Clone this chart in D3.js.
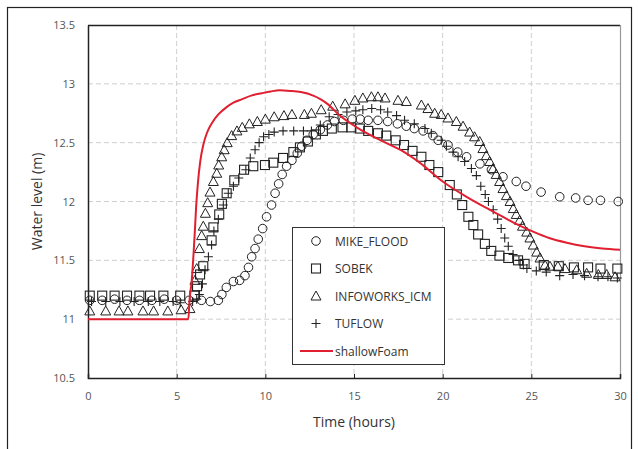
<!DOCTYPE html>
<html><head><meta charset="utf-8">
<script src="https://cdn.jsdelivr.net/npm/d3@7"></script>
<style>body{margin:0;background:#fff}svg{display:block}</style>
</head><body><svg id="c" width="638" height="449"></svg>
<script>
const xTicks = [0,5,10,15,20,25,30];
const yTicks = [10.5,11,11.5,12,12.5,13,13.5];
const seriesNames = ["MIKE_FLOOD","SOBEK","INFOWORKS_ICM","TUFLOW","shallowFoam"];
const mikeFlood = [[0.1,11.16],[0.8,11.16],[1.5,11.17],[2.2,11.16],[2.9,11.16],[3.6,11.16],[4.3,11.17],[5.0,11.16],[5.7,11.16],[6.4,11.16],[6.9,11.15],[7.35,11.16],[7.55,11.21],[7.8,11.27],[8.2,11.32],[8.55,11.33],[8.85,11.37],[9.05,11.44],[9.23,11.53],[9.42,11.6],[9.6,11.68],[9.85,11.77],[10.07,11.87],[10.35,11.97],[10.55,12.07],[10.75,12.15],[10.95,12.23],[11.2,12.3],[11.5,12.35],[11.8,12.41],[12.05,12.47],[12.35,12.52],[12.7,12.57],[13.1,12.61],[13.5,12.65],[13.9,12.68],[14.4,12.69],[14.9,12.7],[15.35,12.7],[15.8,12.69],[16.35,12.69],[16.9,12.68],[17.45,12.66],[17.95,12.64],[18.4,12.62],[18.9,12.6],[19.45,12.56],[19.75,12.52],[20.3,12.48],[20.85,12.42],[21.35,12.38],[22.1,12.32],[22.75,12.27],[23.4,12.21],[24.15,12.17],[24.7,12.13],[25.55,12.08],[26.6,12.04],[27.5,12.03],[28.2,12.01],[28.9,12.01],[29.9,12.0]];
const sobek = [[0.1,11.2],[0.8,11.2],[1.5,11.2],[2.2,11.2],[2.9,11.2],[3.5,11.2],[4.25,11.2],[5.2,11.2],[6.0,11.2],[6.15,11.28],[6.32,11.38],[6.5,11.45],[6.97,11.67],[7.07,11.78],[7.4,11.89],[7.55,11.98],[7.82,12.07],[8.25,12.18],[8.8,12.27],[9.32,12.3],[9.98,12.31],[10.45,12.33],[11.0,12.37],[11.58,12.42],[11.95,12.46],[12.4,12.51],[12.85,12.57],[13.25,12.6],[13.75,12.62],[14.35,12.63],[14.85,12.63],[15.33,12.62],[15.8,12.6],[16.35,12.58],[16.82,12.56],[17.35,12.52],[17.82,12.48],[18.3,12.43],[18.8,12.38],[19.25,12.31],[19.75,12.25],[20.4,12.14],[20.8,12.06],[21.1,11.97],[21.45,11.87],[21.73,11.8],[22.0,11.72],[22.38,11.64],[22.74,11.58],[23.2,11.54],[23.7,11.52],[24.25,11.5],[24.62,11.47],[25.7,11.46],[26.55,11.45],[27.4,11.44],[28.2,11.44],[28.9,11.43],[29.85,11.43]];
const infoworks = [[0.1,11.07],[1.0,11.07],[1.75,11.07],[2.25,11.07],[3.1,11.07],[3.7,11.07],[4.5,11.07],[5.25,11.08],[5.75,11.09],[6.03,11.33],[6.13,11.43],[6.28,11.6],[6.41,11.71],[6.5,11.79],[6.62,11.9],[6.75,11.99],[6.88,12.08],[7.07,12.17],[7.26,12.24],[7.37,12.31],[7.54,12.38],[7.68,12.44],[7.85,12.5],[8.1,12.56],[8.4,12.6],[8.7,12.63],[9.1,12.66],[9.55,12.68],[10.0,12.7],[10.5,12.72],[11.05,12.73],[11.5,12.74],[12.2,12.74],[12.6,12.75],[13.15,12.78],[13.8,12.81],[14.5,12.83],[15.05,12.86],[15.5,12.88],[15.98,12.89],[16.35,12.89],[16.75,12.88],[17.48,12.86],[17.95,12.85],[18.8,12.82],[19.17,12.79],[19.55,12.75],[19.92,12.74],[20.3,12.71],[20.77,12.68],[21.15,12.64],[21.52,12.59],[21.8,12.55],[22.09,12.51],[22.27,12.45],[22.46,12.39],[22.65,12.34],[22.84,12.28],[23.02,12.23],[23.21,12.17],[23.4,12.11],[23.6,12.05],[23.8,12.0],[23.98,11.94],[24.15,11.89],[24.34,11.84],[24.5,11.79],[24.74,11.74],[24.92,11.69],[25.11,11.63],[25.3,11.57],[25.49,11.52],[25.77,11.46],[26.05,11.45],[26.5,11.45],[26.9,11.43],[27.56,11.42],[28.12,11.39],[28.78,11.38],[29.25,11.38],[29.72,11.36]];
const tuflow = [[0.2,11.15],[1.0,11.15],[1.8,11.15],[2.6,11.15],[3.4,11.15],[4.05,11.15],[4.8,11.15],[5.2,11.14],[5.9,11.15],[6.13,11.17],[6.28,11.21],[6.45,11.3],[6.6,11.42],[6.79,11.53],[6.97,11.63],[7.1,11.75],[7.35,11.85],[7.63,11.97],[7.91,12.07],[8.2,12.13],[8.5,12.2],[8.9,12.27],[9.15,12.37],[9.42,12.44],[9.65,12.5],[9.9,12.55],[10.2,12.57],[10.5,12.59],[11.0,12.6],[11.6,12.6],[12.15,12.6],[12.6,12.6],[13.1,12.65],[13.6,12.72],[14.1,12.74],[14.6,12.76],[15.1,12.77],[15.5,12.78],[16.0,12.79],[16.5,12.78],[16.9,12.76],[17.4,12.73],[17.85,12.69],[18.4,12.66],[19.0,12.62],[19.36,12.58],[19.92,12.52],[20.21,12.47],[20.58,12.42],[20.87,12.38],[21.24,12.34],[21.62,12.28],[21.9,12.22],[22.15,12.13],[22.4,12.06],[22.58,12.0],[22.85,11.93],[23.1,11.85],[23.3,11.77],[23.5,11.69],[23.7,11.62],[23.97,11.55],[24.3,11.5],[24.55,11.46],[24.75,11.43],[25.28,11.41],[25.84,11.4],[26.6,11.37],[27.35,11.38],[28.0,11.37],[28.76,11.36],[29.32,11.36],[29.85,11.35]];
const shallowFoam = [[0,11.0],[5.66,11.0],[5.72,11.15],[5.85,11.33],[5.95,11.55],[6.03,11.76],[6.1,11.96],[6.2,12.16],[6.33,12.34],[6.5,12.48],[6.7,12.58],[7.0,12.67],[7.35,12.74],[7.8,12.8],[8.2,12.84],[8.7,12.87],[9.2,12.9],[9.8,12.92],[10.3,12.935],[10.8,12.945],[11.4,12.94],[12.0,12.93],[12.7,12.9],[13.1,12.87],[13.5,12.83],[14.2,12.73],[15.15,12.63],[16.5,12.52],[17.6,12.44],[18.7,12.33],[20.0,12.17],[21.35,12.04],[22.9,11.91],[24.4,11.79],[25.0,11.75],[26.0,11.69],[27.0,11.65],[28.0,11.62],[29.0,11.6],[30,11.59]];

const svg = d3.select("#c");
const font = "'Open Sans', sans-serif";
const L=88, R=620, T=25, B=378;
const x = d3.scaleLinear().domain([0,30]).range([L,R]);
const y = d3.scaleLinear().domain([10.5,13.5]).range([B,T]);

// outer frame
svg.append("rect").attr("x",7.5).attr("y",7.5).attr("width",624).attr("height",460)
  .attr("fill","none").attr("stroke","#222").attr("stroke-width",1.2);

// grid
const g = svg.append("g");
g.selectAll(".vg").data(xTicks.filter(d=>d>0&&d<30)).join("line")
  .attr("x1",d=>x(d)).attr("x2",d=>x(d)).attr("y1",T).attr("y2",B)
  .attr("stroke","#cfcfcf").attr("stroke-dasharray","5,3");
g.selectAll(".hg").data(yTicks.filter(d=>d>10.5&&d<13.5)).join("line")
  .attr("x1",L).attr("x2",R).attr("y1",d=>y(d)).attr("y2",d=>y(d))
  .attr("stroke","#cfcfcf").attr("stroke-dasharray","5,3");

// plot border
svg.append("line").attr("x1",L).attr("x2",R).attr("y1",T+0.5).attr("y2",T+0.5).attr("stroke","#222").attr("stroke-width",1.5);
svg.append("line").attr("x1",R+0.5).attr("x2",R+0.5).attr("y1",T).attr("y2",B).attr("stroke","#999").attr("stroke-width",1.2);

// axes
const xAxis = svg.append("g").attr("transform",`translate(0,${B})`)
  .call(d3.axisBottom(x).tickValues(xTicks).tickSize(-4).tickPadding(14).tickFormat(d3.format("d")));
const yAxis = svg.append("g").attr("transform",`translate(${L},0)`)
  .call(d3.axisLeft(y).tickValues(yTicks).tickSize(0).tickPadding(13).tickFormat(d=>String(d)));
[xAxis,yAxis].forEach(a=>{
  a.select(".domain").attr("stroke","#222").attr("stroke-width",1.5);
  a.selectAll(".tick line").attr("stroke","#222");
  a.selectAll("text").attr("fill","#555").style("font-family",font).style("font-size","11px");
});

// axis titles
svg.append("text").attr("x",(L+R)/2).attr("y",427).attr("text-anchor","middle")
  .style("font-family",font).style("font-size","14px").attr("fill","#333").text("Time (hours)");
svg.append("text").attr("transform",`translate(42,${(T+B)/2}) rotate(-90)`).attr("text-anchor","middle")
  .style("font-family",font).style("font-size","14px").attr("fill","#333").text("Water level (m)");

// markers
const stroke="#222";
function drawMarker(sel, type){
  if(type==="circle") sel.append("circle").attr("r",4.3).attr("fill","none").attr("stroke",stroke).attr("stroke-width",1);
  else if(type==="square") sel.append("rect").attr("x",-4.5).attr("y",-4.5).attr("width",9).attr("height",9).attr("fill","none").attr("stroke",stroke).attr("stroke-width",1.1);
  else if(type==="triangle") sel.append("path").attr("d","M0,-5L5,4L-5,4Z").attr("fill","none").attr("stroke",stroke).attr("stroke-width",1);
  else if(type==="plus") sel.append("path").attr("d","M-4.5,0H4.5M0,-4.5V4.5").attr("fill","none").attr("stroke",stroke).attr("stroke-width",1.1);
}
const sets=[[mikeFlood,"circle"],[sobek,"square"],[infoworks,"triangle"],[tuflow,"plus"]];
sets.forEach(([data,type])=>{
  svg.append("g").selectAll("g").data(data).join("g")
    .attr("transform",d=>`translate(${x(d[0])},${y(d[1])})`)
    .each(function(){drawMarker(d3.select(this),type);});
});
const line = d3.line().x(d=>x(d[0])).y(d=>y(d[1])).curve(d3.curveMonotoneX);
svg.append("path").datum(shallowFoam).attr("d",line).attr("fill","none").attr("stroke","#e02030").attr("stroke-width",2);

// legend
const lg = svg.append("g");
lg.append("rect").attr("x",292.5).attr("y",227.5).attr("width",152).attr("height",137)
  .attr("fill","#fff").attr("stroke","#333").attr("stroke-width",1);
const types=["circle","square","triangle","plus","line"];
seriesNames.forEach((n,i)=>{
  const yy = 241 + i*27.5;
  const it = lg.append("g").attr("transform",`translate(316,${yy})`);
  if(types[i]==="line") it.append("line").attr("x1",-16).attr("x2",17).attr("stroke","#e02030").attr("stroke-width",2);
  else drawMarker(it, types[i]);
  lg.append("text").attr("x",335).attr("y",yy+4.5).style("font-family",font).style("font-size","12px").attr("fill","#333").text(n);
});
</script></body></html>
